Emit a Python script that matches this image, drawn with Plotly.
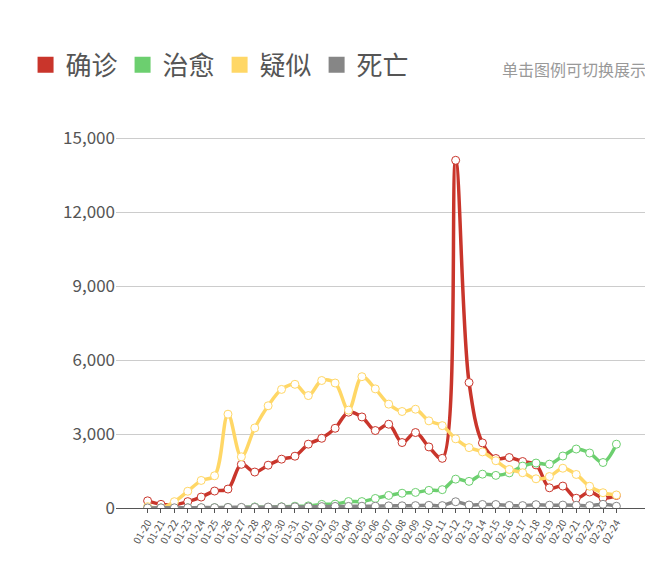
import plotly.graph_objs as go

dates = ["01-%02d" % d for d in range(20, 32)] + ["02-%02d" % d for d in range(1, 25)]

confirmed = [291, 149, 131, 259, 444, 688, 769, 1771, 1459, 1737, 1982, 2102, 2590, 2829, 3235, 3887,
             3694, 3143, 3399, 2656, 3062, 2478, 2015, 14108, 5090, 2641, 2009, 2048, 1886, 1749,
             820, 889, 397, 648, 409, 508]
cured = [0, 0, 0, 6, 3, 11, 19, 9, 43, 21, 47, 72, 85, 147, 157, 262, 261, 387, 510, 600, 632,
         716, 744, 1171, 1081, 1373, 1323, 1425, 1701, 1824, 1779, 2109, 2393, 2231, 1846, 2589]
suspected = [54, 0, 257, 680, 1118, 1309, 3806, 2077, 3248, 4148, 4812, 5019, 4562, 5173, 5072,
             3971, 5328, 4833, 4214, 3916, 4008, 3536, 3342, 2807, 2450, 2277, 1918, 1563, 1432,
             1185, 1277, 1614, 1361, 882, 620, 530]
dead = [3, 6, 8, 8, 16, 15, 24, 26, 26, 38, 43, 46, 45, 57, 64, 65, 73, 73, 86, 89, 97, 108,
        97, 254, 121, 143, 142, 105, 98, 136, 114, 118, 109, 97, 150, 71]

names = ["确诊", "治愈", "疑似", "死亡"]
colors = ["#c9352b", "#6ccf6f", "#ffd766", "#868686"]
series = [confirmed, cured, suspected, dead]

fig = go.Figure()
for name, col, ys in zip(names, colors, series):
    fig.add_trace(go.Scatter(x=dates, y=ys, name=name, legendgroup=name, showlegend=False,
                             mode="lines+markers", line=dict(color=col, width=3.5, shape="spline"),
                             marker=dict(size=8, color="white", line=dict(color=col, width=1))))
    # legend swatch
    fig.add_trace(go.Scatter(x=[None], y=[None], name=name, legendgroup=name, mode="markers",
                             marker=dict(symbol="square", size=22, color=col)))

fig.update_layout(
    width=653, height=567,
    plot_bgcolor="white", paper_bgcolor="white",
    font=dict(family="Noto Sans CJK SC", color="#444"),
    margin=dict(l=108, r=13, t=118, b=67),
    legend=dict(orientation="h", x=-0.17, y=1.16, xanchor="left", yanchor="middle",
                font=dict(size=26, color="#555"), itemwidth=30, traceorder="normal",
                tracegroupgap=0),
    xaxis=dict(type="category", tickangle=-60, tickfont=dict(size=10, color="#555"), showgrid=False,
               showline=True, linecolor="#555", ticks="outside", tickcolor="#555", ticklen=4),
    yaxis=dict(range=[0, 15500], tickvals=[0, 3000, 6000, 9000, 12000, 15000],
               tickformat=",", tickfont=dict(size=17, color="#555"), gridcolor="#ccc",
               zeroline=False),
    annotations=[dict(text="单击图例可切换展示", xref="paper", yref="paper", x=1.0, y=1.15,
                      xanchor="right", yanchor="middle", showarrow=False,
                      font=dict(size=16, color="#999"))],
)

fig.write_html("out.html")
